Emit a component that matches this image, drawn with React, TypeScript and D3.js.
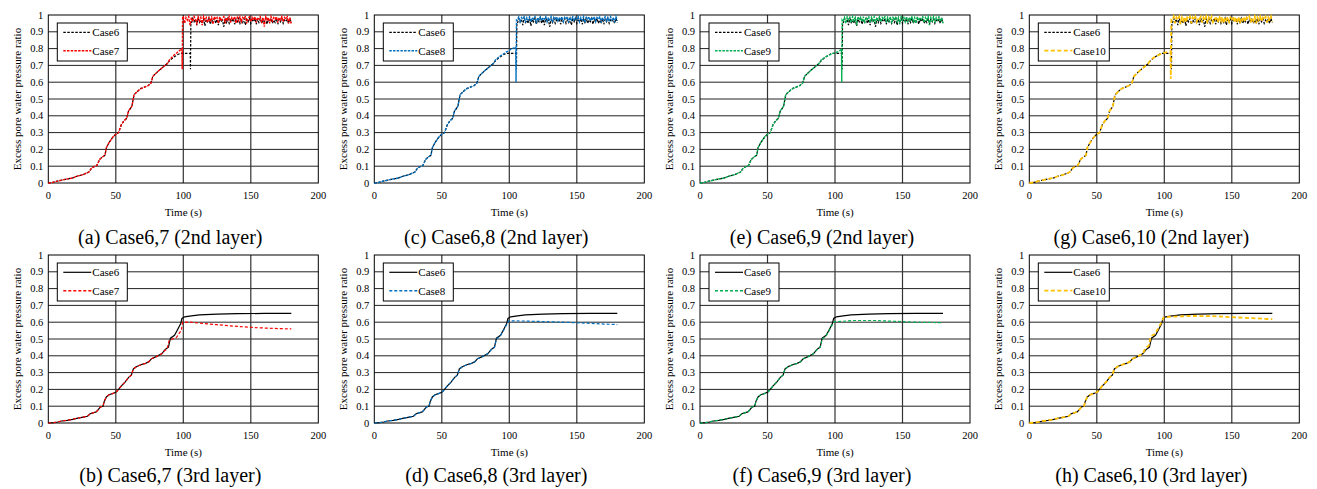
import React from "react";
import * as d3 from "d3";

type Pt = [number, number];

// shared rise of the 2nd layer (all cases nearly identical up to ~88 s)
const rise2nd: Pt[] = [
  [0, 0], [3, 0.003], [6, 0.01], [10, 0.017], [14, 0.024], [18, 0.03], [21, 0.04], [25, 0.048],
  [28, 0.058], [30, 0.065], [32, 0.088], [34, 0.098], [36, 0.105], [38, 0.14], [40, 0.155],
  [42, 0.165], [43, 0.21], [45, 0.24], [48, 0.275], [50, 0.29], [52, 0.3], [54, 0.345],
  [56, 0.37], [58, 0.385], [59.5, 0.43], [61, 0.445], [62, 0.46], [63.5, 0.525], [66, 0.545],
  [68, 0.56], [71, 0.57], [74, 0.58], [76, 0.595], [77.5, 0.635], [80, 0.655], [82, 0.67],
  [85, 0.69], [88, 0.71],
];

const case6Tail2nd: Pt[] = [[90, 0.73], [93, 0.75], [96, 0.765], [98, 0.772], [105.2, 0.772], [105.3, 0.677], [105.6, 0.95]];
const case7Tail2nd: Pt[] = [[90, 0.735], [93, 0.76], [96, 0.78], [99, 0.8], [99.2, 0.677], [99.5, 0.99]];
const case8Tail2nd: Pt[] = [[90, 0.735], [94, 0.76], [98, 0.78], [101, 0.795], [104.8, 0.81], [105, 0.6], [105.3, 0.97]];
const case9Tail2nd: Pt[] = [[90, 0.735], [94, 0.755], [98, 0.77], [102, 0.78], [104.8, 0.795], [105, 0.6], [105.3, 0.97]];
const case10Tail2nd: Pt[] = [[90, 0.735], [94, 0.755], [98, 0.77], [104.6, 0.785], [104.8, 0.62], [105.2, 0.97]];

// fluctuating ratio after liquefaction, one sample per second
const case6Noise = [
  0.95, 0.98, 0.96, 0.975, 0.94, 0.98, 0.955, 0.97, 0.95, 0.98,
  0.935, 0.975, 0.96, 0.98, 0.945, 0.97, 0.96, 0.98, 0.95, 0.975,
  0.94, 0.98, 0.96, 0.97, 0.93, 0.975, 0.955, 0.98, 0.95, 0.97,
  0.96, 0.98, 0.945, 0.975, 0.96, 0.98, 0.95, 0.97, 0.955, 0.98,
  0.94, 0.975, 0.96, 0.98, 0.95, 0.97, 0.96, 0.98, 0.945, 0.975,
  0.955, 0.98, 0.95, 0.97, 0.96, 0.98, 0.945, 0.975, 0.96, 0.98,
  0.95, 0.97, 0.955, 0.98, 0.945, 0.975, 0.96, 0.98, 0.95, 0.97,
  0.96, 0.975, 0.95, 0.98, 0.955,
];
const case7Noise = [
  0.99, 0.95, 0.985, 0.97, 0.99, 0.94, 0.985, 0.96, 0.99, 0.975,
  0.95, 0.99, 0.965, 0.985, 0.94, 0.99, 0.97, 0.985, 0.955, 0.99,
  0.96, 0.985, 0.945, 0.99, 0.975, 0.985, 0.95, 0.99, 0.965, 0.98,
  0.99, 0.95, 0.985, 0.97, 0.99, 0.955, 0.985, 0.975, 0.99, 0.95,
  0.985, 0.965, 0.99, 0.96, 0.985, 0.975, 0.99, 0.95, 0.98, 0.99,
  0.96, 0.985, 0.97, 0.99, 0.955, 0.985, 0.975, 0.99, 0.96, 0.985,
  0.93, 0.99, 0.97, 0.985, 0.95, 0.99, 0.965, 0.985, 0.975, 0.99,
  0.955, 0.985, 0.97, 0.99, 0.96, 0.985, 0.975, 0.99, 0.95, 0.985,
  0.945,
];
const case8Noise = [
  0.97, 0.99, 0.96, 0.985, 0.975, 0.99, 0.955, 0.985, 0.97, 0.99,
  0.96, 0.985, 0.975, 0.99, 0.95, 0.985, 0.97, 0.99, 0.965, 0.985,
  0.975, 0.99, 0.96, 0.985, 0.97, 0.99, 0.955, 0.985, 0.975, 0.99,
  0.965, 0.985, 0.97, 0.99, 0.96, 0.985, 0.975, 0.99, 0.955, 0.985,
  0.97, 0.99, 0.965, 0.985, 0.975, 0.99, 0.96, 0.985, 0.97, 0.99,
  0.955, 0.985, 0.975, 0.99, 0.965, 0.985, 0.97, 0.99, 0.96, 0.985,
  0.975, 0.99, 0.955, 0.985, 0.97, 0.99, 0.965, 0.985, 0.96, 0.99,
  0.97, 0.985, 0.955, 0.99, 0.965,
];
const case9Noise = [
  0.96, 0.985, 0.95, 0.99, 0.97, 0.985, 0.955, 0.99, 0.965, 0.985,
  0.94, 0.99, 0.97, 0.985, 0.96, 0.99, 0.95, 0.985, 0.975, 0.99,
  0.955, 0.985, 0.965, 0.99, 0.95, 0.985, 0.97, 0.99, 0.96, 0.985,
  0.975, 0.99, 0.955, 0.985, 0.965, 0.99, 0.95, 0.985, 0.97, 0.99,
  0.96, 0.985, 0.945, 0.99, 0.97, 0.985, 0.96, 0.99, 0.955, 0.985,
  0.97, 0.99, 0.96, 0.985, 0.95, 0.99, 0.965, 0.985, 0.975, 0.99,
  0.955, 0.985, 0.97, 0.99, 0.94, 0.985, 0.965, 0.99, 0.955, 0.985,
  0.97, 0.99, 0.96, 0.985, 0.95,
];
const case10Noise = [
  0.965, 0.99, 0.95, 0.985, 0.97, 0.99, 0.945, 0.985, 0.965, 0.99,
  0.955, 0.985, 0.975, 0.99, 0.95, 0.985, 0.97, 0.99, 0.96, 0.985,
  0.975, 0.99, 0.955, 0.985, 0.965, 0.99, 0.95, 0.985, 0.97, 0.99,
  0.96, 0.985, 0.975, 0.99, 0.955, 0.985, 0.965, 0.99, 0.95, 0.985,
  0.97, 0.99, 0.96, 0.985, 0.975, 0.99, 0.955, 0.985, 0.965, 0.99,
  0.95, 0.985, 0.97, 0.99, 0.96, 0.985, 0.975, 0.99, 0.955, 0.985,
  0.965, 0.99, 0.95, 0.985, 0.97, 0.99, 0.96, 0.985, 0.975, 0.99,
  0.955, 0.985, 0.965, 0.99, 0.96,
];

// 3rd layer
const rise3rd: Pt[] = [
  [0, 0], [4, 0.002], [7, 0.006], [10, 0.012], [14, 0.016], [18, 0.022], [21, 0.028], [25, 0.034],
  [29, 0.04], [31, 0.055], [33, 0.06], [35.5, 0.066], [37, 0.08], [38.5, 0.095], [40.5, 0.1],
  [41.5, 0.13], [43, 0.155], [45, 0.168], [48, 0.176], [50.5, 0.186], [52, 0.2], [54, 0.22],
  [57, 0.245], [59.5, 0.272], [61.5, 0.285], [63, 0.322], [65.5, 0.336], [69, 0.348], [72, 0.355],
  [74.5, 0.365], [76.5, 0.383], [80, 0.395], [84, 0.412],
];
const case6Tail3rd: Pt[] = [[86.5, 0.437], [89, 0.452], [90.5, 0.505], [93.5, 0.522], [96, 0.56], [98, 0.59], [99, 0.622], [101, 0.632], [106, 0.638], [112, 0.644], [125, 0.648], [140, 0.651], [160, 0.652], [180, 0.652]];
const case7Tail3rd: Pt[] = [[86, 0.43], [88, 0.44], [89.5, 0.49], [92, 0.5], [95, 0.51], [97, 0.535], [98.5, 0.55], [99.5, 0.6], [105, 0.6], [115, 0.592], [125, 0.585], [140, 0.575], [155, 0.567], [170, 0.562], [180, 0.56]];
const case8Tail3rd: Pt[] = [[86.5, 0.435], [89, 0.45], [90.5, 0.5], [93.5, 0.52], [96, 0.555], [98, 0.585], [99.5, 0.608], [110, 0.607], [125, 0.604], [140, 0.6], [155, 0.595], [170, 0.589], [180, 0.586]];
const case9Tail3rd: Pt[] = [[86.5, 0.435], [89, 0.45], [90.5, 0.5], [93.5, 0.52], [96, 0.555], [98, 0.585], [99.5, 0.603], [105, 0.605], [112, 0.61], [130, 0.61], [145, 0.605], [160, 0.6], [180, 0.597]];
const case10Tail3rd: Pt[] = [[86, 0.445], [88.5, 0.46], [90, 0.515], [93, 0.53], [96, 0.57], [98, 0.6], [99.5, 0.628], [105, 0.633], [120, 0.637], [135, 0.636], [150, 0.63], [165, 0.624], [180, 0.618]];

const xTicks = [0, 50, 100, 150, 200];
const yTicks = [0, 0.1, 0.2, 0.3, 0.4, 0.5, 0.6, 0.7, 0.8, 0.9, 1];

const noisy = (head: Pt[], tail: Pt[], start: number, noise: number[]): Pt[] =>
  head.concat(tail, noise.map((v, i) => [start + i, v] as Pt));

const case6Top = noisy(rise2nd, case6Tail2nd, 106, case6Noise);
const compTop = [
  { name: "Case7", color: "#ff0000", data: noisy(rise2nd, case7Tail2nd, 100, case7Noise) },
  { name: "Case8", color: "#0070c0", data: noisy(rise2nd, case8Tail2nd, 106, case8Noise) },
  { name: "Case9", color: "#00b050", data: noisy(rise2nd, case9Tail2nd, 106, case9Noise) },
  { name: "Case10", color: "#ffc000", data: noisy(rise2nd, case10Tail2nd, 106, case10Noise) },
];
const case6Bot = rise3rd.concat(case6Tail3rd);
const compBot = [
  { name: "Case7", color: "#ff0000", data: rise3rd.concat(case7Tail3rd) },
  { name: "Case8", color: "#0070c0", data: rise3rd.concat(case8Tail3rd) },
  { name: "Case9", color: "#00b050", data: rise3rd.concat(case9Tail3rd) },
  { name: "Case10", color: "#ffc000", data: rise3rd.concat(case10Tail3rd) },
];
const topLetters = ["a", "c", "e", "g"];
const botLetters = ["b", "d", "f", "h"];
const plotLefts = [48.3, 374.3, 700, 1029.3];

const W = 270;
const H = 168;
const FONT = "'Liberation Serif', 'Times New Roman', serif";

type Series = { name: string; color: string; data: Pt[] };

function Panel({ left, top, base, comp, layer, letter }: {
  left: number; top: number; base: Series; comp: Series; layer: "2nd" | "3rd"; letter: string;
}) {
  const x = d3.scaleLinear().domain([0, 200]).range([0, W]);
  const y = d3.scaleLinear().domain([0, 1]).range([H, 0]);
  const line = d3.line<Pt>().x((d) => x(d[0])).y((d) => y(d[1]));
  const isTop = layer === "2nd";
  const baseDash = isTop ? "2.5,1.5" : undefined;
  const thick = comp.name === "Case10";
  const compDash = thick ? "4,2.5" : isTop ? "2.5,1.2" : "3,2";
  const compW = thick ? 1.8 : isTop ? 1.4 : 1.2;
  const num = comp.name.replace("Case", "");
  return (
    <g transform={`translate(${left},${top})`} fontFamily={FONT}>
      <rect width={W} height={H} fill="#fff" />
      {yTicks.slice(1, -1).map((t) => (
        <line key={"h" + t} x1={0} x2={W} y1={y(t)} y2={y(t)} stroke="#222" strokeWidth={1} />
      ))}
      {xTicks.slice(1, -1).map((t) => (
        <line key={"v" + t} x1={x(t)} x2={x(t)} y1={0} y2={H} stroke="#333" strokeWidth={1.2} />
      ))}
      <rect width={W} height={H} fill="none" stroke="#000" strokeWidth={1} />
      <path d={line(base.data) || ""} fill="none" stroke="#000" strokeWidth={1.2} strokeDasharray={baseDash} />
      <path d={line(comp.data) || ""} fill="none" stroke={comp.color} strokeWidth={compW} strokeDasharray={compDash} />
      {yTicks.map((t) => (
        <text key={"yl" + t} x={-5} y={y(t)} dy="0.35em" textAnchor="end" fontSize={10.5}>
          {d3.format("~g")(t)}
        </text>
      ))}
      {xTicks.map((t) => (
        <text key={"xl" + t} x={x(t)} y={H + 16} textAnchor="middle" fontSize={10.5}>
          {t}
        </text>
      ))}
      <text x={W / 2} y={H + 32.5} textAnchor="middle" fontSize={11}>Time (s)</text>
      <text transform={`translate(${-27},${H / 2}) rotate(-90)`} textAnchor="middle" fontSize={11}>
        Excess pore water pressure ratio
      </text>
      <g transform="translate(9,8)">
        <rect width={num.length > 1 ? 71 : 70} height={38} fill="#fff" stroke="#000" strokeWidth={1} />
        <line x1={6} x2={34} y1={9.3} y2={9.3} stroke="#000" strokeWidth={1.2} strokeDasharray={baseDash} />
        <text x={35} y={9.3} dy="0.35em" fontSize={11}>{base.name}</text>
        <line x1={6} x2={34} y1={27.7} y2={27.7} stroke={comp.color} strokeWidth={thick ? 1.8 : 1.4} strokeDasharray={compDash} />
        <text x={35} y={27.7} dy="0.35em" fontSize={11}>{comp.name}</text>
      </g>
      <text x={122} y={isTop ? 229 : 227} textAnchor="middle" fontSize={20}>
        {`(${letter}) Case6,${num} (${layer} layer)`}
      </text>
    </g>
  );
}

export default function App() {
  const base2: Series = { name: "Case6", color: "#000", data: case6Top };
  const base3: Series = { name: "Case6", color: "#000", data: case6Bot };
  return (
    <svg width={1317} height={489} style={{ position: "absolute", left: 0, top: 0, background: "#fff" }}>
      {compTop.map((c, i) => (
        <Panel key={"t" + i} left={plotLefts[i]} top={15} base={base2} comp={c} layer="2nd" letter={topLetters[i]} />
      ))}
      {compBot.map((c, i) => (
        <Panel key={"b" + i} left={plotLefts[i]} top={255} base={base3} comp={c} layer="3rd" letter={botLetters[i]} />
      ))}
    </svg>
  );
}
